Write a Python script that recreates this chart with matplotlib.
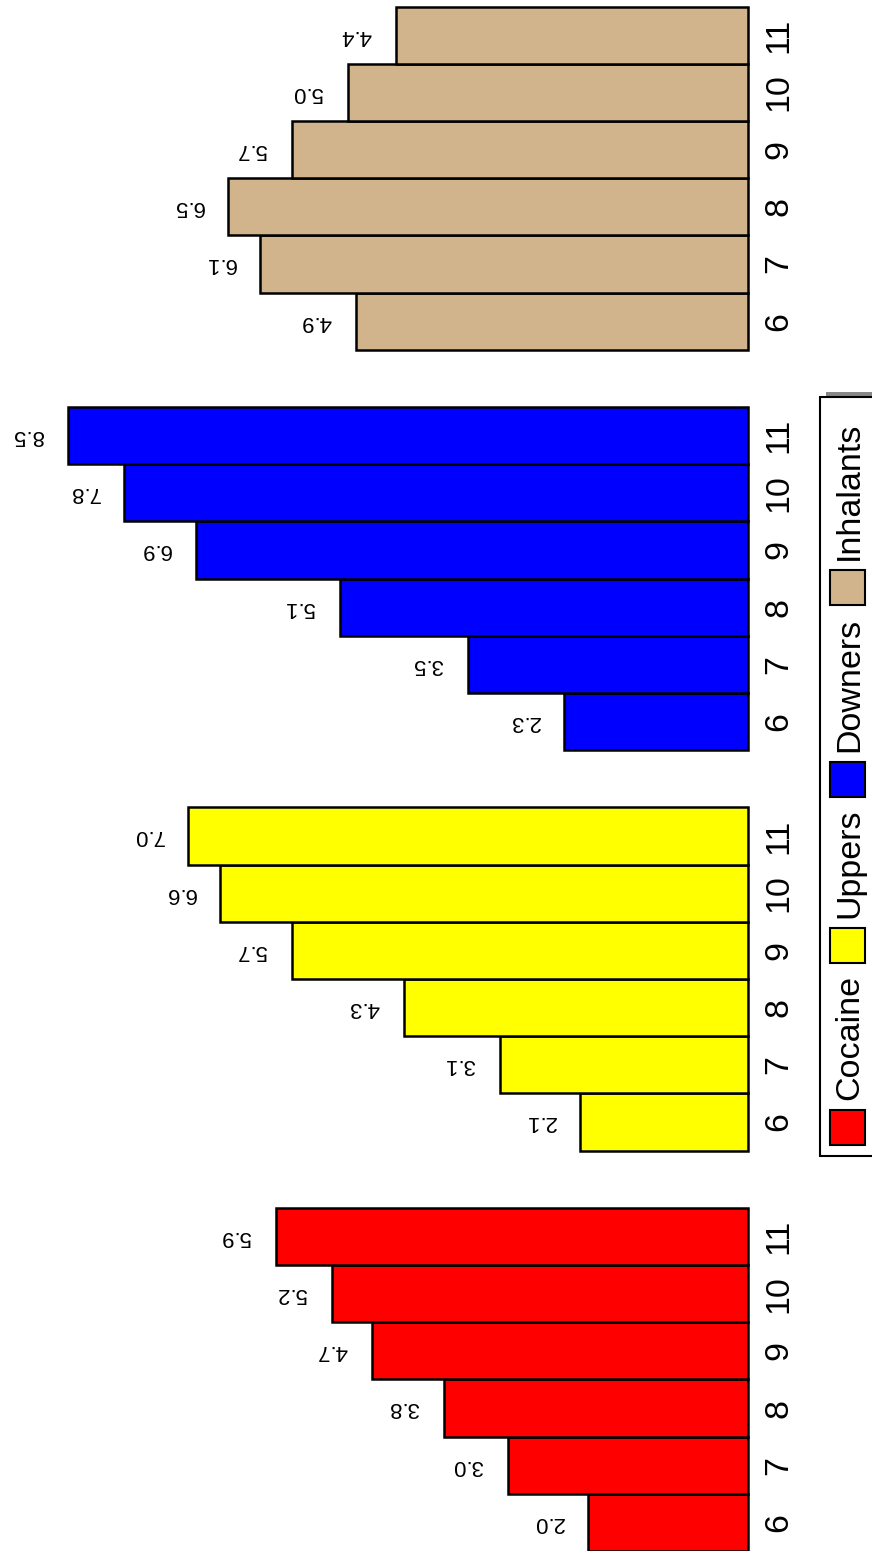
import matplotlib
matplotlib.use("Agg")
import matplotlib.pyplot as plt
from matplotlib.patches import Rectangle

plt.rcParams['font.family'] = ['Liberation Sans', 'DejaVu Sans']

# data
grades = ["6", "7", "8", "9", "10", "11"]
drugs = ["Cocaine", "Uppers", "Downers", "Inhalants"]
cocaine = [2.0, 3.0, 3.8, 4.7, 5.2, 5.9]
uppers = [2.1, 3.1, 4.3, 5.7, 6.6, 7.0]
downers = [2.3, 3.5, 5.1, 6.9, 7.8, 8.5]
inhalants = [4.9, 6.1, 6.5, 5.7, 5.0, 4.4]
colors = ["#FF0000", "#FFFF00", "#0000FF", "#D2B48C"]

W, H = 872, 1551
fig = plt.figure(figsize=(W / 100, H / 100), dpi=100)

# main axes, rotated bar chart: value grows leftwards from x=748 px
ax = fig.add_axes([0, 0, 750 / W, 1])
ax.set_xlim(750 / 80 - 0.025, -0.025)
ax.set_ylim(0, H / 57.2)

centers, labels = [], []
for g, vals in enumerate([cocaine, uppers, downers, inhalants]):
    pos = [g * 7 + i + 0.5 for i in range(len(vals))]
    ax.barh(pos, vals, height=1, color=colors[g], edgecolor="black", linewidth=1.8)
    for p, v in zip(pos, vals):
        ax.text(v + 0.5, p, f"{v:.1f}", rotation=180, ha="center", va="center",
                fontsize=16)
    centers += pos
    labels += grades

ax.set_yticks(centers, labels)
ax.yaxis.tick_right()
ax.tick_params(axis="y", length=0, pad=27, labelsize=24.5)
for t in ax.get_yticklabels():
    t.set_rotation(90)
    t.set_rotation_mode("anchor")
    t.set_ha("center")
    t.set_va("baseline")
ax.set_xticks([])
for s in ax.spines.values():
    s.set_visible(False)

# legend drawn in pixel coordinates
ov = fig.add_axes([0, 0, 1, 1])
ov.set_xlim(0, W)
ov.set_ylim(H, 0)
ov.axis("off")
ov.add_patch(Rectangle((826, 392), 60, 764, facecolor="#888888", edgecolor="none"))
ov.add_patch(Rectangle((820, 397), 70, 759, facecolor="white", edgecolor="black",
                       linewidth=1.5))
box_top = [1110, 928, 762, 570]
for name, c, by in zip(drugs, colors, box_top):
    ov.add_patch(Rectangle((830, by), 35, 35, facecolor=c, edgecolor="black",
                           linewidth=1.5))
    ov.text(858, by - 10, name, rotation=90, rotation_mode="anchor", ha="left",
            va="baseline", fontsize=24.5)

fig.savefig("out.png", dpi=100)
